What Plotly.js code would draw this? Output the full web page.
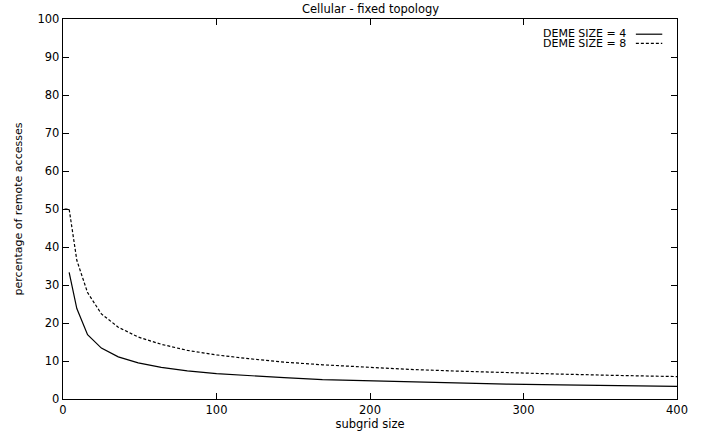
<!DOCTYPE html>
<html>
<head>
<meta charset="utf-8">
<script src="https://cdn.plot.ly/plotly-3.0.1.min.js"></script>
<style>html,body{margin:0;padding:0;background:#fff;}#chart{width:714px;height:435px;}</style>
</head>
<body>
<div id="chart"></div>
<script>
var subgrid4 = [4, 9, 16, 25, 36, 49, 64, 81, 100, 121, 144, 169, 196, 225, 256, 289, 324, 361, 400];
var deme4 = [33.3, 23.8, 16.9, 13.4, 11.1, 9.5, 8.3, 7.4, 6.7, 6.1, 5.6, 5.1, 4.8, 4.45, 4.17, 3.92, 3.7, 3.51, 3.33];
var subgrid8 = [1, 4, 9, 16, 25, 36, 49, 64, 81, 100, 121, 144, 169, 196, 225, 256, 289, 324, 361, 400];
var deme8 = [50, 50, 36.5, 28.0, 22.4, 18.9, 16.3, 14.4, 12.8, 11.6, 10.6, 9.7, 9.0, 8.4, 7.8, 7.35, 6.9, 6.55, 6.2, 5.9];
var legendNames = ["DEME SIZE = 4", "DEME SIZE = 8"];
var xTicks = [0, 100, 200, 300, 400];
var yTicks = [0, 10, 20, 30, 40, 50, 60, 70, 80, 90, 100];

var font = "DejaVu Sans, Verdana, sans-serif";
var traces = [
  {x: subgrid4, y: deme4, mode: "lines", name: legendNames[0], line: {color: "#000", width: 1.2}},
  {x: subgrid8, y: deme8, mode: "lines", name: legendNames[1], line: {color: "#000", width: 1.2, dash: "3px,2px"}}
];
var axisCommon = {
  showgrid: false, zeroline: false, showline: true, linecolor: "#000", linewidth: 1.3,
  mirror: "ticks", ticks: "inside", ticklen: 6, tickcolor: "#000", tickwidth: 1,
  tickfont: {family: font, size: 11.5, color: "#000"}
};
var layout = {
  width: 714, height: 435,
  margin: {l: 63, r: 37, t: 19, b: 36},
  paper_bgcolor: "#fff", plot_bgcolor: "#fff",
  showlegend: false,
  font: {family: font, color: "#000"},
  title: {text: "Cellular - fixed topology", font: {family: font, size: 11.5, color: "#000"}, x: 0.519, xanchor: "center", y: 0.988, yanchor: "top"},
  xaxis: Object.assign({}, axisCommon, {range: [0, 400], tickvals: xTicks, ticktext: xTicks.map(String),
    title: {text: "subgrid size", font: {family: font, size: 11.5, color: "#000"}, standoff: 1}}),
  yaxis: Object.assign({}, axisCommon, {range: [0, 100], tickvals: yTicks, ticktext: yTicks.map(String),
    title: {text: "percentage of remote accesses", font: {family: font, size: 11, color: "#000"}, standoff: 12}}),
  annotations: [
    {xref: "paper", yref: "paper", x: 0.921, y: 0.961, xanchor: "right", yanchor: "middle", text: legendNames[0], showarrow: false, font: {family: font, size: 11, color: "#000"}},
    {xref: "paper", yref: "paper", x: 0.921, y: 0.935, xanchor: "right", yanchor: "middle", text: legendNames[1], showarrow: false, font: {family: font, size: 11, color: "#000"}}
  ],
  shapes: [
    {type: "line", xref: "paper", yref: "paper", x0: 0.933, x1: 0.976, y0: 0.960, y1: 0.960, line: {color: "#000", width: 1.2}},
    {type: "line", xref: "paper", yref: "paper", x0: 0.933, x1: 0.976, y0: 0.936, y1: 0.936, line: {color: "#000", width: 1.2, dash: "3px,2px"}}
  ]
};
Plotly.newPlot("chart", traces, layout, {staticPlot: true});
</script>
</body>
</html>
